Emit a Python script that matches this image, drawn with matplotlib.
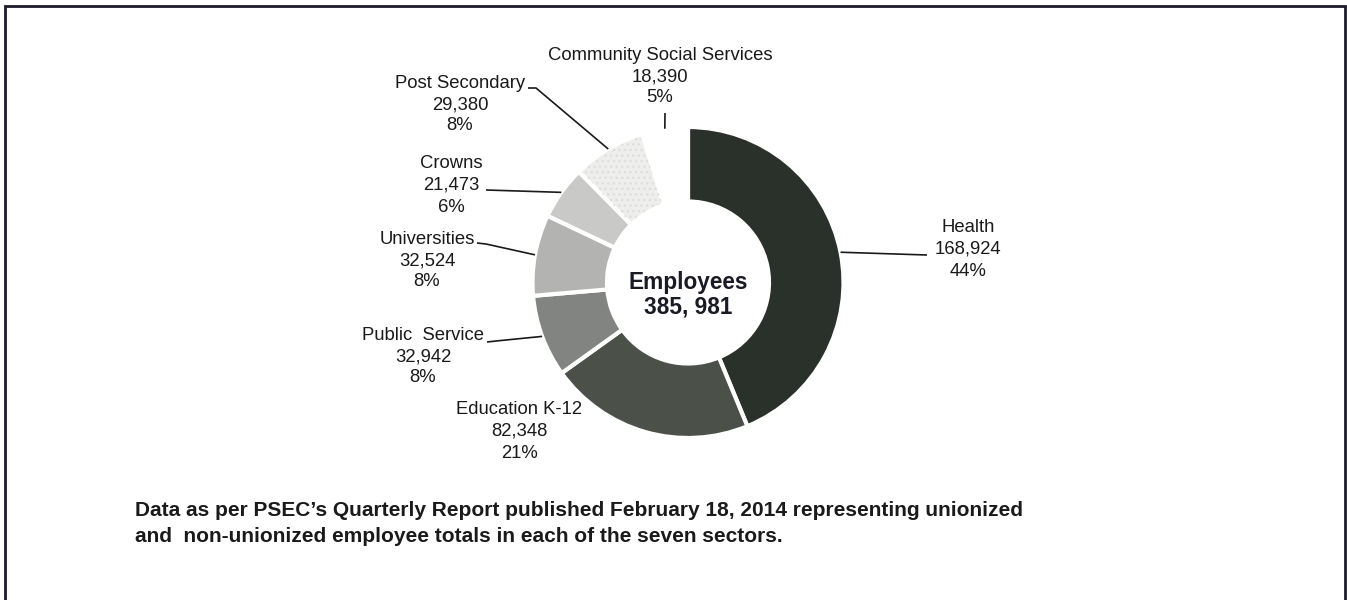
import numpy as np
import matplotlib
matplotlib.use("Agg")
import matplotlib.pyplot as plt

# Employee totals per sector
sectors = ["Health", "Education K-12", "Public  Service", "Universities",
           "Crowns", "Post Secondary", "Community Social Services"]
employees = [168924, 82348, 32942, 32524, 21473, 29380, 18390]
value_labels = ["168,924", "82,348", "32,942", "32,524", "21,473", "29,380", "18,390"]
pct_labels = ["44%", "21%", "8%", "8%", "6%", "8%", "5%"]
total_label = "385, 981"

slice_colors = ["#2a302a", "#4b5048", "#828481", "#b3b4b2", "#c9c9c8", "#eeeeec", "#ffffff"]

W, H = 1347, 600
plt.rcParams["font.family"] = ["Liberation Sans", "DejaVu Sans"]

fig = plt.figure(figsize=(W / 100, H / 100), dpi=100)
ax = fig.add_axes([0, 0, 1, 1])


def fy(y):
    """Top-down pixel row to axes y."""
    return H - y


cx, cy = 688, 282.5
r_out, r_in = 155.5, 81

wedges, _ = ax.pie(employees, colors=slice_colors, startangle=90, counterclock=False,
                   radius=r_out, center=(cx, fy(cy)), frame=True,
                   wedgeprops=dict(width=r_out - r_in, edgecolor="white", linewidth=3))

# stippled texture on the Post Secondary slice
ps = wedges[sectors.index("Post Secondary")]
ax.add_patch(matplotlib.patches.Wedge((cx, fy(cy)), r_out - 2, ps.theta1 + 0.8, ps.theta2 - 0.6,
                                      width=r_out - r_in - 4, facecolor="none",
                                      edgecolor="#dededc", hatch="...", linewidth=0))

ax.set_xlim(0, W)
ax.set_ylim(0, H)
ax.set_aspect("auto")
ax.axis("off")

# label block centres (x, first-line y) and leader paths from the text side
label_pos = {
    "Health": (968, 228),
    "Education K-12": (519, 410),
    "Public  Service": (423, 335),
    "Universities": (427, 239),
    "Crowns": (451, 164),
    "Post Secondary": (460, 83),
    "Community Social Services": (660, 55),
}
leader_start = {
    "Health": [(927, 255)],
    "Public  Service": [(487, 342), (496, 341)],
    "Universities": [(477, 243), (486, 244)],
    "Crowns": [(486, 190)],
    "Post Secondary": [(528, 88), (536, 88)],
    "Community Social Services": [(665, 113)],
}

fs = 13.3
line_gap = 21.5
for i, name in enumerate(sectors):
    x, y0 = label_pos[name]
    for j, line in enumerate([name, value_labels[i], pct_labels[i]]):
        ax.text(x, fy(y0 + j * line_gap), line, ha="center", va="center",
                fontsize=fs, color="#1a1a1a")
    if name in leader_start:
        w = wedges[i]
        mid = np.deg2rad((w.theta1 + w.theta2) / 2)
        ex = cx + r_out * np.cos(mid)
        ey = fy(cy) + r_out * np.sin(mid)
        pts = leader_start[name]
        xs = [p[0] for p in pts] + [ex]
        ys = [fy(p[1]) for p in pts] + [ey]
        ax.plot(xs, ys, color="#1a1a1a", lw=1.2, solid_capstyle="butt")

# centre total
ax.text(cx, fy(282), "Employees", ha="center", va="center", fontsize=16.3,
        fontweight="bold", color="#1a1a24")
ax.text(cx, fy(307), total_label, ha="center", va="center", fontsize=16.3,
        fontweight="bold", color="#1a1a24")

# source note
ax.text(135, fy(511), "Data as per PSEC\u2019s Quarterly Report published February 18, 2014 representing unionized",
        ha="left", va="center", fontsize=15, fontweight="bold", color="#1a1a1a")
ax.text(135, fy(537), "and  non-unionized employee totals in each of the seven sectors.",
        ha="left", va="center", fontsize=15, fontweight="bold", color="#1a1a1a")

# frame around the panel (open at the bottom)
ax.plot([5, 5, 1345, 1345], [fy(602), fy(6), fy(6), fy(602)], color="#1c1c2a",
        lw=2, solid_joinstyle="miter", clip_on=False)

fig.savefig("out.png", dpi=100)
